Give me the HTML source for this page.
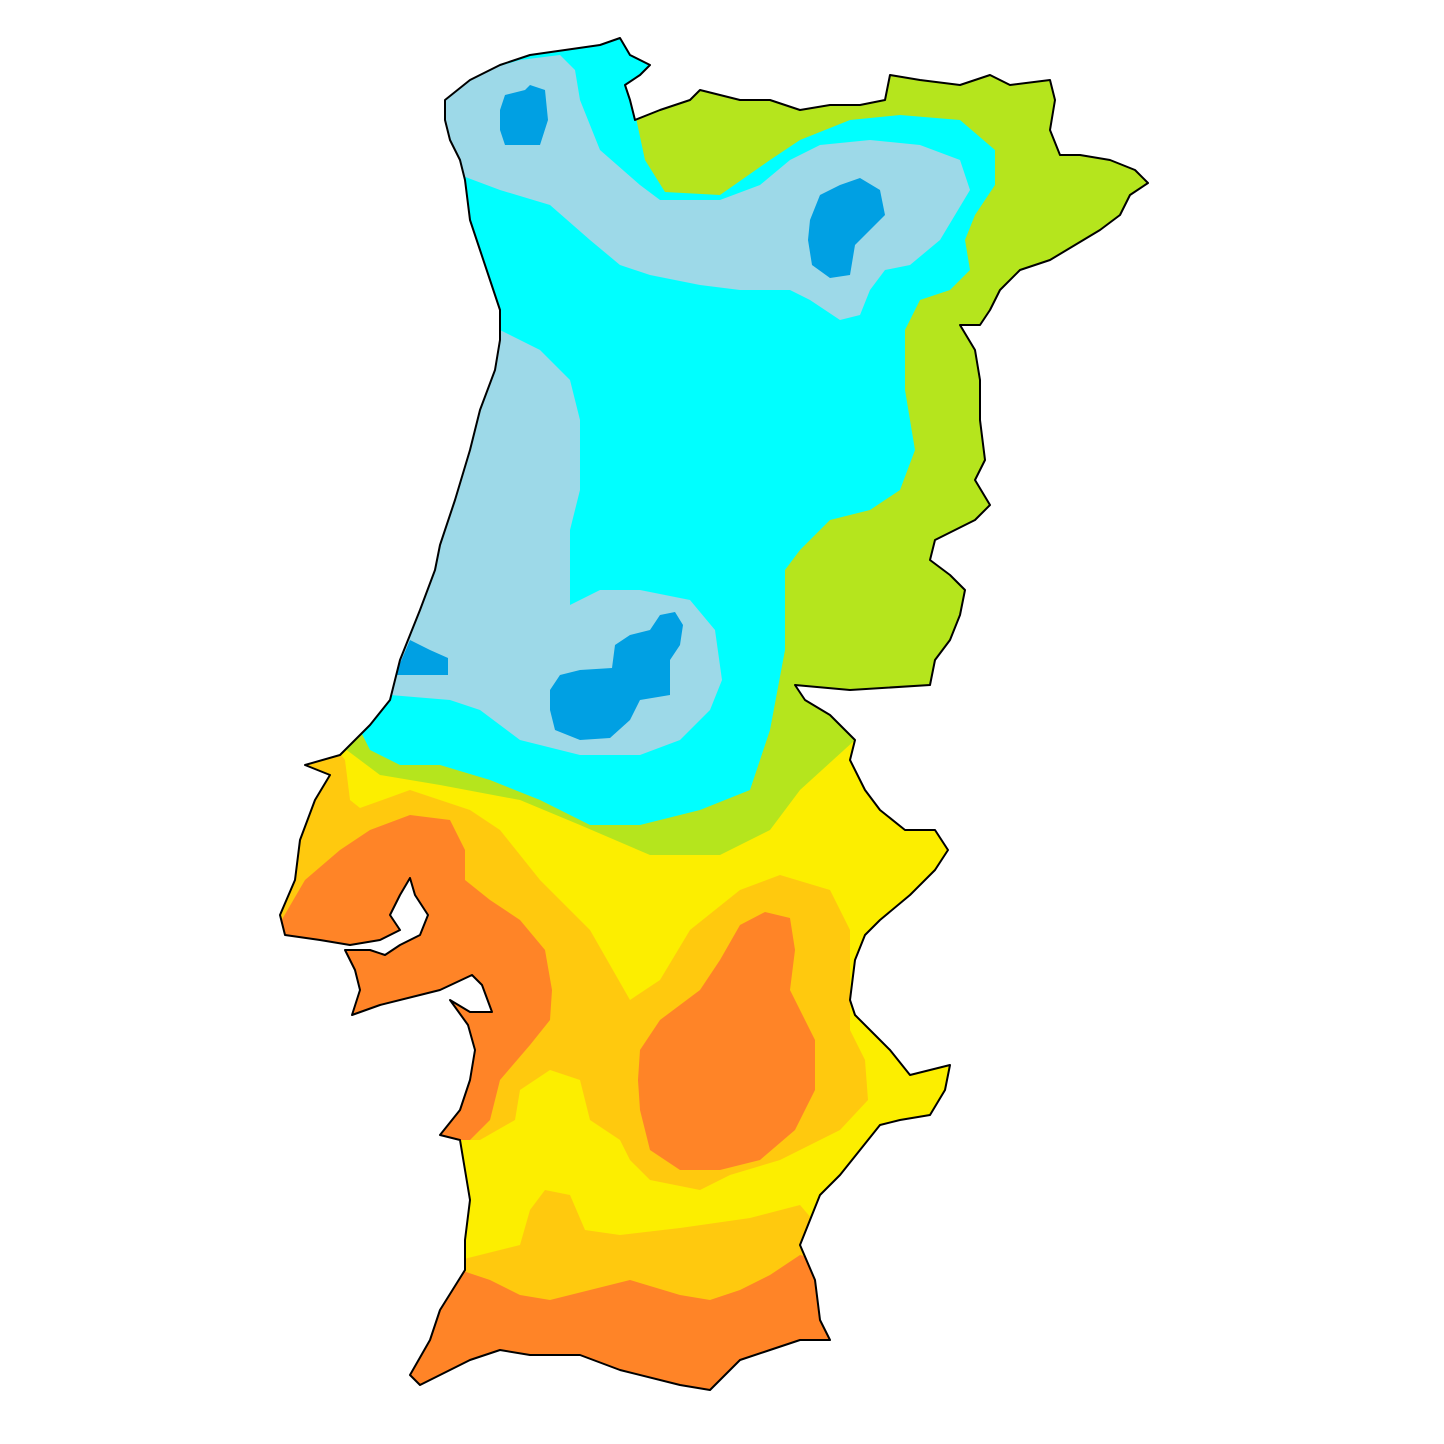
<!DOCTYPE html>
<html><head><meta charset="utf-8"><style>
html,body{margin:0;padding:0;background:#fff;width:1444px;height:1444px;overflow:hidden}
svg{display:block}
</style></head><body>
<svg width="1444" height="1444" viewBox="0 0 1444 1444">
<defs>
<clipPath id="pt"><path id="outlineP" d="M445,100 L470,80 L500,65 L530,55 L565,50 L600,45 L620,38 L630,55 L650,65 L640,75 L625,85 L630,100 L635,120 L660,110 L690,100 L700,90 L740,100 L770,100 L800,110 L830,105 L860,105 L885,100 L890,75 L920,80 L960,85 L990,75 L1010,85 L1050,80 L1055,100 L1050,130 L1060,155 L1080,155 L1110,160 L1135,170 L1148,183 L1130,195 L1120,215 L1100,230 L1075,245 L1050,260 L1020,270 L1000,290 L990,310 L980,325 L960,325 L975,350 L980,380 L980,420 L985,460 L975,480 L990,505 L975,520 L955,530 L935,540 L930,560 L950,575 L965,590 L960,615 L950,640 L935,660 L930,685 L850,690 L795,685 L805,700 L830,715 L855,740 L850,760 L865,790 L880,810 L905,830 L935,830 L948,850 L935,870 L910,895 L880,920 L865,935 L855,960 L850,1000 L855,1015 L875,1035 L890,1050 L910,1075 L950,1065 L945,1090 L930,1115 L900,1120 L880,1125 L860,1150 L840,1175 L820,1195 L810,1220 L800,1245 L815,1280 L820,1320 L830,1340 L800,1340 L770,1350 L740,1360 L710,1390 L680,1385 L620,1370 L580,1355 L530,1355 L500,1350 L470,1360 L440,1375 L420,1385 L410,1375 L430,1340 L440,1310 L465,1270 L465,1240 L470,1200 L465,1170 L460,1140 L440,1135 L460,1110 L470,1080 L475,1050 L468,1025 L450,1000 L470,1012 L492,1012 L482,985 L472,975 L440,990 L420,995 L380,1005 L352,1015 L360,990 L355,970 L345,950 L370,950 L385,955 L400,945 L420,935 L428,915 L415,895 L410,878 L400,895 L390,915 L400,930 L380,940 L350,945 L320,940 L285,935 L280,915 L295,880 L300,840 L315,800 L330,775 L305,765 L340,755 L355,740 L370,725 L390,700 L400,660 L420,610 L435,570 L440,545 L455,500 L470,450 L480,410 L495,370 L500,340 L500,310 L490,280 L480,250 L470,220 L465,180 L460,160 L450,140 L445,120 Z"/></clipPath>
</defs>
<g clip-path="url(#pt)">
<rect x="0" y="0" width="1444" height="1444" fill="#FCEE00"/>
<polygon fill="#B5E51D" points="0,0 1444,0 1444,740 855,740 800,790 770,830 720,855 650,855 580,825 520,800 440,785 380,775 340,745 0,745"/>
<polygon fill="#00FFFF" points="660,0 660,90 636,118 645,160 665,192 720,195 770,160 800,140 850,120 900,115 960,120 995,150 995,185 975,215 965,240 970,270 950,290 920,300 905,330 905,390 915,450 900,490 870,510 830,520 800,550 785,570 785,650 770,730 750,790 700,810 640,825 590,825 540,800 490,780 440,765 400,765 370,750 360,730 380,710 390,690 0,690 0,0"/>
<polygon fill="#9DD9E8" points="445,90 470,75 520,60 560,55 575,70 580,100 600,150 640,185 660,200 720,200 760,185 790,160 820,145 870,140 920,145 960,160 970,190 955,215 940,240 910,265 885,270 870,290 860,315 840,320 810,300 790,290 740,290 700,285 650,275 620,265 590,240 550,205 500,190 460,175 0,175 0,90"/>
<polygon fill="#9DD9E8" points="500,330 540,350 570,380 580,420 580,490 570,530 570,605 600,590 640,590 690,600 715,630 722,680 710,710 680,740 640,755 580,755 520,740 480,710 450,700 390,695 0,695 0,330"/>
<polygon fill="#00A0E3" points="500,110 505,95 525,90 530,85 545,90 548,120 540,145 505,145 500,130"/>
<polygon fill="#00A0E3" points="810,220 820,195 840,185 860,178 880,190 885,215 870,230 855,245 850,275 830,278 812,265 808,240"/>
<polygon fill="#00A0E3" points="395,675 410,640 430,650 448,658 448,675"/>
<polygon fill="#00A0E3" points="550,690 560,675 580,670 612,668 615,645 630,635 650,630 660,615 675,612 683,625 680,645 670,660 670,695 640,700 630,720 610,738 580,740 555,730 550,710"/>
<polygon fill="#FFC90E" points="260,740 330,740 345,760 350,800 360,808 410,790 470,810 500,830 540,880 590,930 630,1000 660,980 690,930 740,890 780,875 830,890 850,930 850,1030 865,1060 868,1100 840,1130 780,1160 730,1175 700,1190 650,1180 630,1160 620,1140 590,1120 580,1080 550,1070 520,1090 515,1120 480,1140 440,1140 400,1100 300,1100 250,900"/>
<polygon fill="#FF8427" points="305,880 340,850 370,830 410,815 450,820 465,850 465,880 490,900 520,920 545,950 552,990 550,1020 530,1045 500,1080 490,1120 470,1140 430,1140 350,1050 270,940"/>
<polygon fill="#FF8427" points="640,1050 660,1020 700,990 720,960 740,925 765,912 790,918 795,950 790,990 800,1010 815,1040 815,1090 795,1130 760,1160 720,1170 680,1170 650,1150 640,1110 638,1080"/>
<polygon fill="#FFC90E" points="460,1260 520,1245 530,1210 545,1190 570,1195 585,1230 620,1235 680,1228 750,1218 800,1205 830,1240 850,1400 400,1400"/>
<polygon fill="#FF8427" points="460,1270 490,1280 520,1295 550,1300 590,1290 630,1280 680,1295 710,1300 740,1290 770,1275 800,1255 820,1260 850,1400 400,1400 420,1300"/>
</g>
<use href="#outlineP" fill="none" stroke="#000" stroke-width="2" stroke-linejoin="round"/>
</svg>
</body></html>
